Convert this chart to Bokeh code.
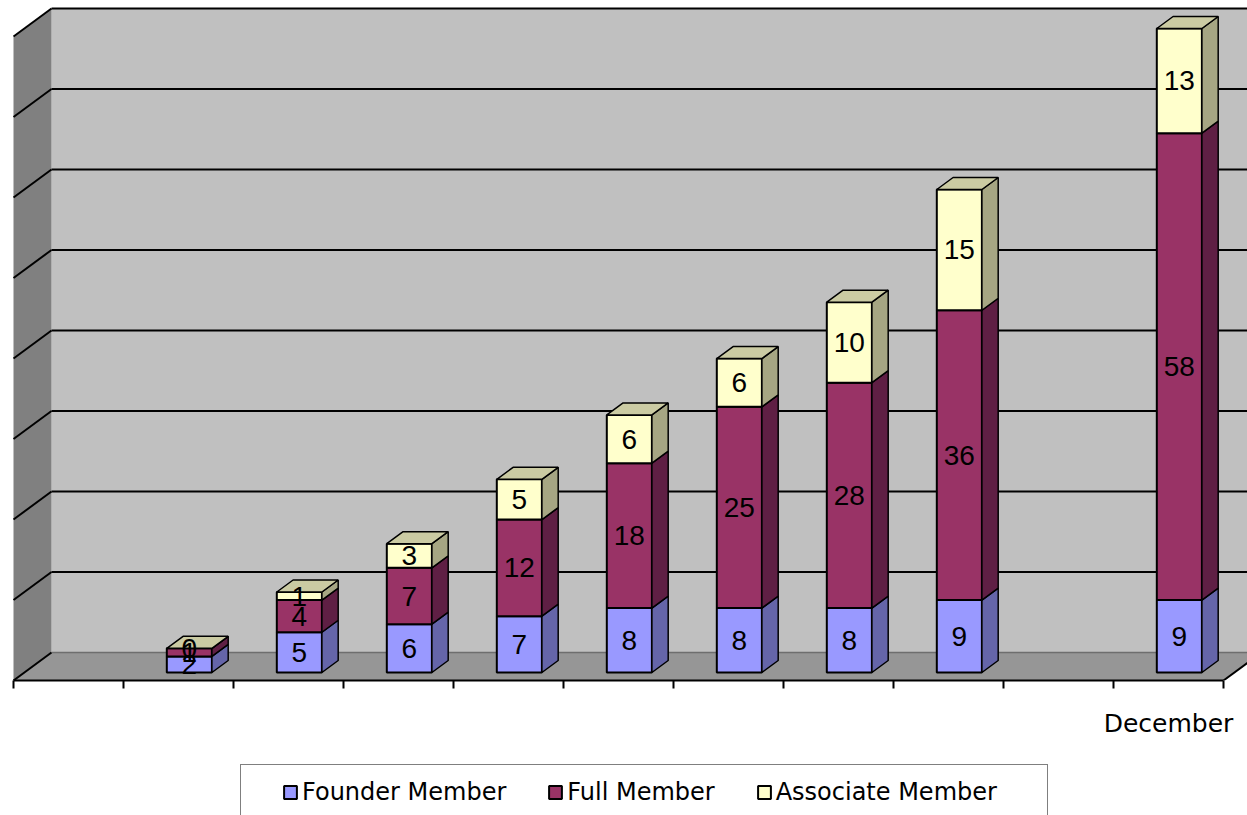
import numpy as np
from bokeh.plotting import figure
from bokeh.layouts import column
from bokeh.models import (Range1d, LinearAxis, FixedTicker, Legend, LegendItem)
from bokeh.embed import file_html
from bokeh.resources import INLINE
from bokeh.core.properties import value

# ---------------- data ----------------
slot_labels = ["", "", "", "", "", "", "", "", "", "", "December"]
founder = [None, 2, 5, 6, 7, 8, 8, 8, 9, None, 9]
full = [None, 1, 4, 7, 12, 18, 25, 28, 36, None, 58]
associate = [None, 0, 1, 3, 5, 6, 6, 10, 15, None, 13]
series_names = ["Founder Member", "Full Member", "Associate Member"]
y_max = 80
grid_step = 10

# ---------------- style ----------------
front_colors = ["#9999ff", "#993366", "#ffffcc"]
side_colors = ["#6565a9", "#5f1f44", "#a6a683"]
top_color = "#cbcba3"
back_wall_color = "#c0c0c0"
side_wall_color = "#808080"
floor_color = "#969696"

W = 1247
H_CHART = 750
H_LEG = 65
FRAME_H = 680
SLOT_PX = 110.0
UNIT_PX = 8.05
DX_PX, DY_PX = 38.0, 28.0
FLOOR_LEFT = 13.0
BAR_W = 0.41
ZF, ZB = 8.0 / 28.0, 20.0 / 28.0

n = len(slot_labels)
dxu = DX_PX / SLOT_PX
dyu = DY_PX / UNIT_PX


def proj(x, y, z):
    return x + z * dxu, y + z * dyu


def poly(pts):
    xs, ys = zip(*[proj(*p) for p in pts])
    return list(xs), list(ys)


p = figure(width=W, height=H_CHART,
           x_range=Range1d(-FLOOR_LEFT / SLOT_PX, (W - FLOOR_LEFT) / SLOT_PX),
           y_range=Range1d(0, FRAME_H / UNIT_PX),
           output_backend="svg", toolbar_location=None,
           x_axis_type=None, y_axis_type=None,
           min_border_left=0, min_border_right=0, min_border_top=0,
           min_border_bottom=H_CHART - FRAME_H,
           outline_line_color=None, background_fill_color="white",
           border_fill_color="white")

# walls and floor
xs, ys = poly([(0, 0, 1), (n, 0, 1), (n, y_max, 1), (0, y_max, 1)])
p.patch(xs, ys, fill_color=back_wall_color, line_color=None)
xs, ys = poly([(0, 0, 0), (0, 0, 1), (0, y_max, 1), (0, y_max, 0)])
p.patch(xs, ys, fill_color=side_wall_color, line_color=None)
xs, ys = poly([(0, 0, 0), (n, 0, 0), (n, 0, 1), (0, 0, 1)])
p.patch(xs, ys, fill_color=floor_color, line_color=None)

# floor back edge
(bx0, by0), (bx1, by1) = proj(0, 0, 1), proj(n, 0, 1)
p.segment([bx0], [by0], [bx1], [by1], line_color="#6e6e6e", line_width=1.5)

# gridlines on back wall and side wall
levels = list(range(grid_step, y_max + 1, grid_step))
gx0, gy0, gx1, gy1 = [], [], [], []
for g in levels:
    a, b = proj(0, g, 1), proj(n, g, 1)
    gx0.append(a[0]); gy0.append(a[1]); gx1.append(b[0]); gy1.append(b[1])
    c = proj(0, g, 0)
    gx0.append(c[0]); gy0.append(c[1]); gx1.append(a[0]); gy1.append(a[1])
for xe in (0, n):
    a, b = proj(xe, 0, 0), proj(xe, 0, 1)
    gx0.append(a[0]); gy0.append(a[1]); gx1.append(b[0]); gy1.append(b[1])
p.segment(gx0, gy0, gx1, gy1, line_color="black", line_width=2)

# bars
series = [founder, full, associate]
cum = [0 if v is not None else None for v in founder]
label_x, label_y, label_t = [], [], []
for k, vals in enumerate(series):
    L, R, B, T = [], [], [], []
    sxs, sys_ = [], []
    for i, v in enumerate(vals):
        if v is None:
            continue
        b0 = cum[i]
        t0 = b0 + v
        xl = i + 0.5 - BAR_W / 2
        xr = i + 0.5 + BAR_W / 2
        L.append(proj(xl, b0, ZF)[0]); R.append(proj(xr, b0, ZF)[0])
        B.append(proj(xl, b0, ZF)[1]); T.append(proj(xl, t0, ZF)[1])
        xs, ys = poly([(xr, b0, ZF), (xr, b0, ZB), (xr, t0, ZB), (xr, t0, ZF)])
        sxs.append(xs); sys_.append(ys)
        cx, cy = proj(i + 0.5, (b0 + t0) / 2, ZF)
        label_x.append(cx); label_y.append(cy); label_t.append(str(v))
        cum[i] = t0
    p.quad(left=L, right=R, bottom=B, top=T, fill_color=front_colors[k],
           line_color="black", line_width=2)
    p.patches(sxs, sys_, fill_color=side_colors[k], line_color="black",
              line_width=1.5)

# top faces
txs, tys = [], []
for i, tot in enumerate(cum):
    if tot is None:
        continue
    xl = i + 0.5 - BAR_W / 2
    xr = i + 0.5 + BAR_W / 2
    xs, ys = poly([(xl, tot, ZF), (xr, tot, ZF), (xr, tot, ZB), (xl, tot, ZB)])
    txs.append(xs); tys.append(ys)
p.patches(txs, tys, fill_color=top_color, line_color="black", line_width=1.5)

p.text(label_x, label_y, text=label_t, text_align="center",
       text_baseline="middle", text_font=value("Liberation Sans"),
       text_font_size="28px", text_color="black")

# x axis
centers = [i + 0.5 for i in range(n)]
xaxis = LinearAxis(ticker=FixedTicker(ticks=centers, minor_ticks=list(range(n + 1))),
                   bounds=(0, n),
                   major_label_overrides={c: lab for c, lab in zip(centers, slot_labels)},
                   axis_line_color="black", axis_line_width=2,
                   major_tick_out=0, major_tick_in=0,
                   minor_tick_out=8, minor_tick_in=0,
                   minor_tick_line_color="black", minor_tick_line_width=2,
                   major_label_standoff=20,
                   major_label_text_font="DejaVu Sans",
                   major_label_text_font_size="25px",
                   major_label_text_color="black")
p.add_layout(xaxis, "below")

# ---------------- legend strip ----------------
q = figure(width=W, height=H_LEG, x_range=Range1d(0, 1), y_range=Range1d(0, 1),
           output_backend="svg", toolbar_location=None,
           x_axis_type=None, y_axis_type=None,
           min_border_left=0, min_border_right=0, min_border_top=0,
           min_border_bottom=0, outline_line_color=None,
           background_fill_color="white", border_fill_color="white")

nan = float("nan")
dummy = q.quad(left=[nan], right=[nan], bottom=[nan], top=[nan],
               fill_alpha=0, line_alpha=0)
leg_renderers = [q.quad(left=[nan], right=[nan], bottom=[nan], top=[nan],
                        fill_color=c, line_color="black", line_width=2)
                 for c in front_colors]

box = Legend(items=[LegendItem(label=" ", renderers=[dummy])],
             location=(240, -3), orientation="horizontal",
             glyph_width=1, glyph_height=1, label_width=805, label_height=52,
             label_standoff=0, padding=0, margin=0, spacing=0,
             border_line_color="black", border_line_width=1.5,
             background_fill_color="white", background_fill_alpha=1)
q.add_layout(box)

leg = Legend(items=[LegendItem(label=nm, renderers=[r])
                    for nm, r in zip(series_names, leg_renderers)],
             location=(270, -3), orientation="horizontal",
             glyph_width=16, glyph_height=16, label_standoff=4, spacing=41,
             padding=12, margin=0, label_height=28,
             label_text_font="DejaVu Sans", label_text_font_size="24px",
             label_text_color="black",
             border_line_alpha=0, background_fill_alpha=0)
q.add_layout(leg)

layout = column(p, q, spacing=0)
open("out.html", "w").write(file_html(layout, INLINE))
